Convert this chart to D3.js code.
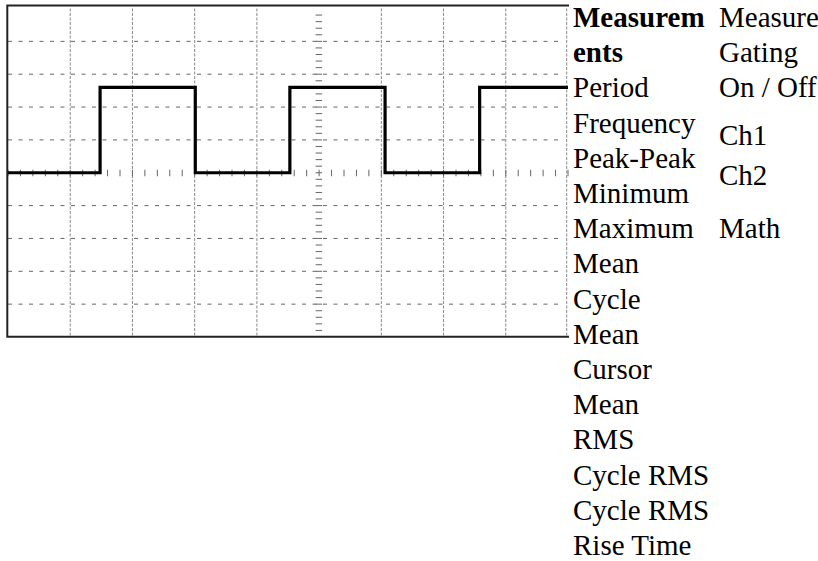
<!DOCTYPE html>
<html>
<head>
<meta charset="utf-8">
<script src="https://cdn.jsdelivr.net/npm/d3@7"></script>
<style>
  body { margin: 0; background: #fff; }
  svg { display: block; }
  text { font-family: "Liberation Serif", "Times New Roman", serif; font-size: 29px; fill: #000; }
</style>
</head>
<body>
<div id="scope"></div>
<script>
// Square wave on the scope screen (time in divisions, level in divisions)
const waveTimes = [0, 1.48, 3.01, 4.53, 6.06, 7.58, 9];
const waveLevels = [0, 2.6, 0, 2.6, 0, 2.6, 2.6];

// Grid divisions
const xDivisions = [1, 2, 3, 4, 6, 7, 8, 9];
const yDivisions = [-4, -3, -2, -1, 1, 2, 3, 4];

// Menu texts
const menuTitle = ["Measurem", "ents"];
const menuItems = ["Period", "Frequency", "Peak-Peak", "Minimum", "Maximum", "Mean", "Cycle",
                   "Mean", "Cursor", "Mean", "RMS", "Cycle RMS", "Cycle RMS", "Rise Time"];
const optionItems = ["Measure", "Gating", "On / Off", "Ch1", "Ch2", "Math"];

const width = 818, height = 561;
const svg = d3.select("#scope").append("svg").attr("width", width).attr("height", height);

const x = d3.scaleLinear().domain([0, 9]).range([8, 568]);
const y = d3.scaleLinear().domain([-5, 5]).range([337, 8.5]);

// horizontal gridlines (dashed)
svg.append("g").selectAll("line")
    .data(yDivisions)
    .enter().append("line")
    .attr("x1", x(0)).attr("x2", x(9) - 4)
    .attr("y1", d => y(d)).attr("y2", d => y(d))
    .attr("stroke", "#666").attr("stroke-width", 1)
    .attr("stroke-dasharray", "4,6.5");

// vertical gridlines (short dashes)
svg.append("g").selectAll("line")
    .data(xDivisions)
    .enter().append("line")
    .attr("x1", d => x(d) - (d === 9 ? 1.3 : 0)).attr("x2", d => x(d) - (d === 9 ? 1.3 : 0))
    .attr("y1", y(5)).attr("y2", y(-5))
    .attr("stroke", "#888").attr("stroke-width", 1)
    .attr("stroke-dasharray", "3,1.5");

// minor ticks on the centre axes
svg.append("g").selectAll("line")
    .data(d3.range(0, 9.001, 0.2))
    .enter().append("line")
    .attr("x1", d => x(d)).attr("x2", d => x(d))
    .attr("y1", y(0) - 3).attr("y2", y(0) + 3.5)
    .attr("stroke", "#666").attr("stroke-width", 1);

svg.append("g").selectAll("line")
    .data(d3.range(-4.8, 4.801, 0.2))
    .enter().append("line")
    .attr("x1", x(5) - 3.5).attr("x2", x(5) + 3)
    .attr("y1", d => y(d)).attr("y2", d => y(d))
    .attr("stroke", "#666").attr("stroke-width", 1);

// screen frame: left, top and bottom are solid
const [x0, x1] = x.range();
const [yb, yt] = y.range();
svg.append("path")
    .attr("d", `M${x1 + 1},${yt - 3} H${x0 - 0.7} V${yb - 0.3} H${x1 + 1}`)
    .attr("fill", "none")
    .attr("stroke", "#222")
    .attr("stroke-width", 2);

// waveform
const wave = waveTimes.map((t, i) => [t, waveLevels[i]]);
svg.append("path")
    .datum(wave)
    .attr("d", d3.line().x(d => x(d[0])).y(d => y(d[1])).curve(d3.curveStepAfter))
    .attr("fill", "none")
    .attr("stroke", "#000")
    .attr("stroke-width", 3.2);

// menu columns
const rowY = i => 27 + 35.2 * i;
const col1 = 573, col2 = 719;

svg.append("g").selectAll("text")
    .data(menuTitle.concat(menuItems))
    .enter().append("text")
    .attr("x", col1)
    .attr("y", (d, i) => rowY(i))
    .style("font-weight", (d, i) => i < menuTitle.length ? "bold" : "normal")
    .text(d => d);

const optionRows = [0, 1, 2, 3.35, 4.5, 6];
svg.append("g").selectAll("text")
    .data(optionItems)
    .enter().append("text")
    .attr("x", col2)
    .attr("y", (d, i) => rowY(optionRows[i]))
    .text(d => d);
</script>
</body>
</html>
